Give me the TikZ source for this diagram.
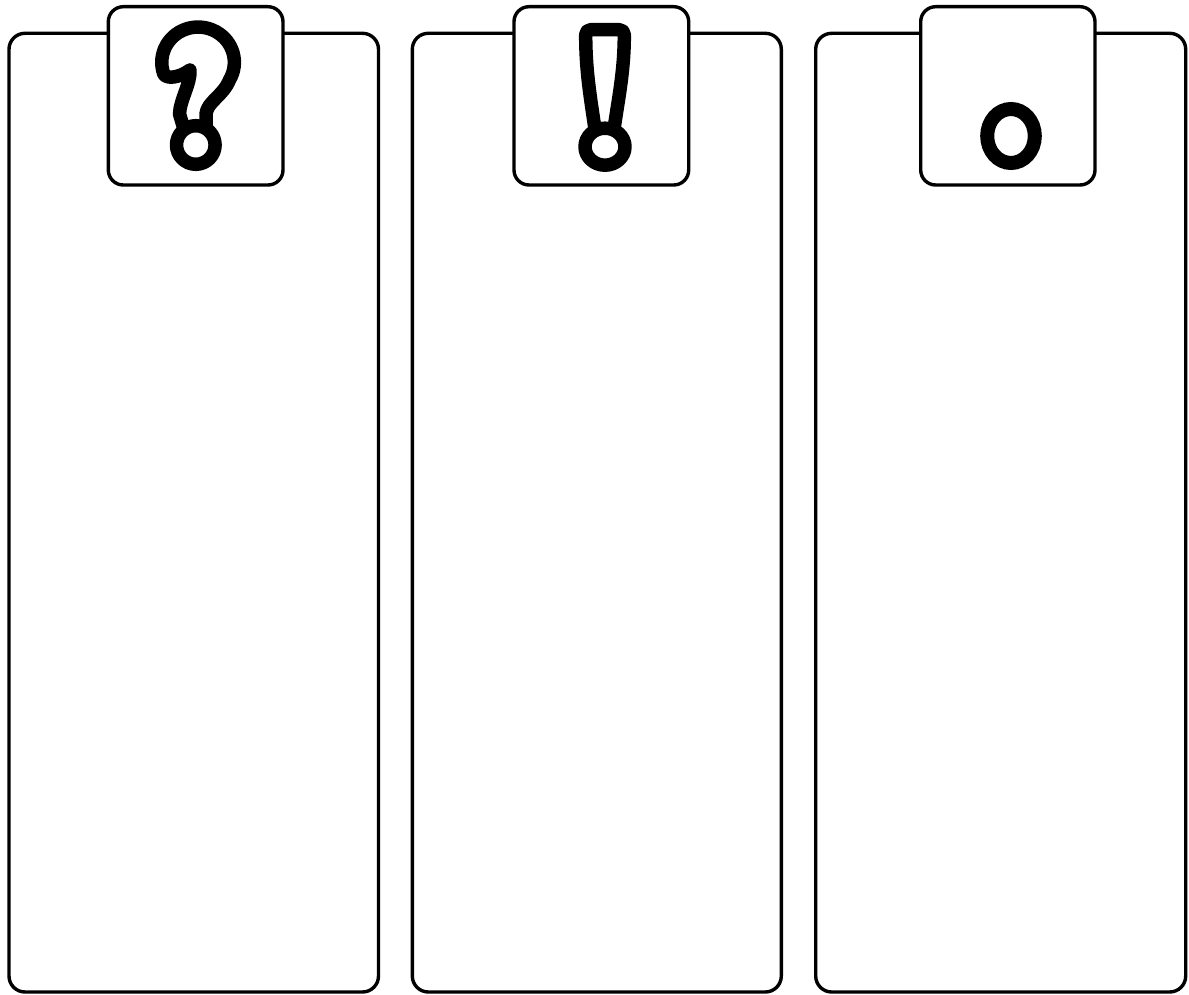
\documentclass[tikz,border=0pt]{standalone}
\begin{document}
\begin{tikzpicture}[x=1pt,y=-1pt,
  panel/.style={draw=black,line width=3.4pt,rounded corners=16pt,fill=white},
  tabbox/.style={draw=black,line width=3.4pt,rounded corners=15pt,fill=white},
  glyph/.style={draw=black,line width=13.5pt,line cap=round,line join=round}]
\fill[white] (0,0) rectangle (1189,995);
\useasboundingbox (0,0) rectangle (1189,995);
% panels
\draw[panel] (9,33.3) rectangle (378.5,992);
\draw[panel] (412.3,33.3) rectangle (781.3,992);
\draw[panel] (815.7,33.3) rectangle (1185.7,992);
% tabs
\draw[tabbox] (108.3,6.7) rectangle (283,185);
\draw[tabbox] (514,6.7) rectangle (688.7,185);
\draw[tabbox] (920.7,6.7) rectangle (1095,185);
% question mark
\draw[glyph] (206,128) -- (206,114) .. controls (207,102) and (223,96) .. (229.5,80)
  arc[start angle=30,end angle=-200,x radius=36.3,y radius=35.3]
  .. controls (167,79) and (179,78) .. (190,70)
  .. controls (191,83) and (180,100) .. (179.5,114) -- (184,129);
\draw[glyph] (195.8,145) circle[radius=19.3];
% exclamation mark
\draw[glyph,rounded corners=5pt] (595,129) .. controls (590,95) and (585.7,70) .. (585.7,29.7) -- (624.3,29.7) .. controls (624.3,70) and (619,95) .. (614,129);
\draw[glyph] (605,146.7) ellipse[x radius=20,y radius=18.5];
% full stop
\draw[draw=black,line width=14pt] (1011,136) ellipse[x radius=23.8,y radius=27];
\end{tikzpicture}
\end{document}
